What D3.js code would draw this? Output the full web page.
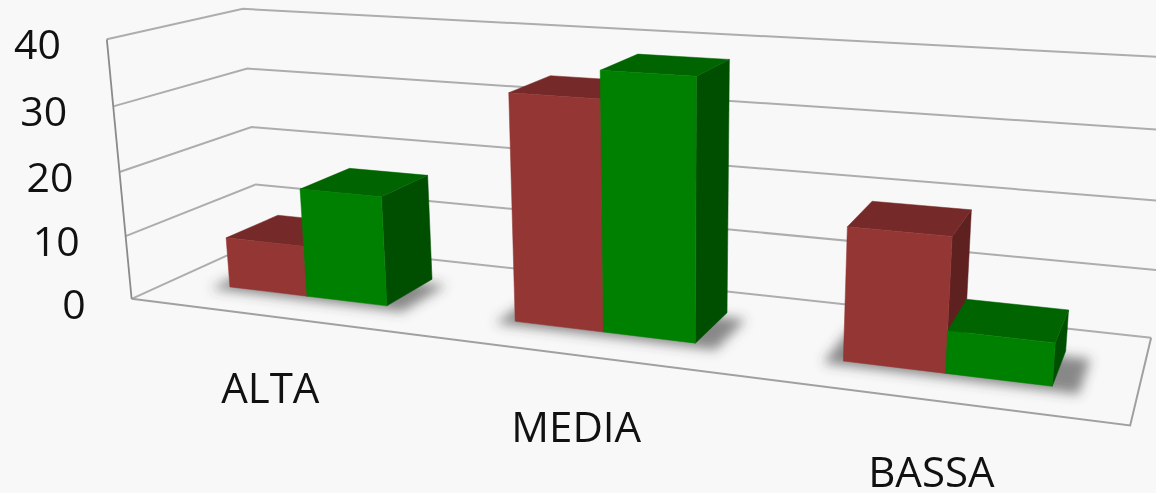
<!DOCTYPE html>
<html><head><meta charset="utf-8"><script src="https://cdn.jsdelivr.net/npm/d3@7"></script>
<style>html,body{margin:0;background:#f8f8f8;overflow:hidden}svg{display:block}text{font-family:"Open Sans",sans-serif;fill:#111}</style></head>
<body><svg id="c" width="1156" height="493"></svg>
<script>
// Chart values
const categories = ["ALTA", "MEDIA", "BASSA"];
const seriesNames = ["Serie 1", "Serie 2"];
const serie1 = [8, 34, 19];
const serie2 = [17, 38, 6];
const yTicks = [0, 10, 20, 30, 40];
const seriesFaces = [
  {front: "#943634", top: "#752a29", side: "#5f2120"},
  {front: "#008000", top: "#006400", side: "#004f00"}
];

// Camera: world box (x, value, depth each 0..1) mapped through a fitted projective matrix
const anchors = [
  [[0,0,0],[130,299]], [[1,0,0],[1130,426]], [[0,0,1],[260,241]], [[1,0,1],[1151,337]],
  [[0,1,0],[107,39]], [[0,1,1],[242,9]], [[1,1,1],[1175,58]],
  [[0,.75,0],[115,106]], [[0,.5,0],[120,172]], [[0,.25,0],[125,236]],
  [[0,.75,1],[245,69]], [[0,.5,1],[253,127]], [[0,.25,1],[257,184]]
];
function fitCamera(pairs) {
  const rows = [], rhs = [];
  pairs.forEach(([[X,Y,Z],[x,y]]) => {
    rows.push([X,Y,Z,1,0,0,0,0,-x*X,-x*Y,-x*Z]); rhs.push(x);
    rows.push([0,0,0,0,X,Y,Z,1,-y*X,-y*Y,-y*Z]); rhs.push(y);
  });
  const n = 11;
  const N = d3.range(n).map(i => d3.range(n + 1).map(j =>
    j < n ? d3.sum(rows, r => r[i] * r[j]) : d3.sum(rows, (r, k) => r[i] * rhs[k])));
  for (let i = 0; i < n; i++) {
    let m = i;
    for (let k = i; k < n; k++) if (Math.abs(N[k][i]) > Math.abs(N[m][i])) m = k;
    [N[i], N[m]] = [N[m], N[i]];
    for (let k = 0; k < n; k++) if (k !== i) {
      const f = N[k][i] / N[i][i];
      for (let j = i; j <= n; j++) N[k][j] -= f * N[i][j];
    }
  }
  return N.map((r, i) => r[n] / r[i]);
}
const cam = fitCamera(anchors);
const project = (X, Y, Z) => {
  const w = cam[8]*X + cam[9]*Y + cam[10]*Z + 1;
  return [(cam[0]*X + cam[1]*Y + cam[2]*Z + cam[3]) / w, (cam[4]*X + cam[5]*Y + cam[6]*Z + cam[7]) / w];
};

// Scales
const xBand = d3.scaleBand().domain(categories).range([0, 1]).paddingInner(0.433).paddingOuter(0.2165);
const xInner = d3.scaleBand().domain(seriesNames).range([0, xBand.bandwidth()]);
const yScale = d3.scaleLinear().domain([0, 40]).range([0, 1]);
const zBar = [0.298, 0.715];

const svg = d3.select("#c");
const path = d3.line().curve(d3.curveLinearClosed);
const open = d3.line();

svg.append("defs").append("filter").attr("id", "soft")
  .attr("x", "-30%").attr("y", "-60%").attr("width", "160%").attr("height", "220%")
  .append("feGaussianBlur").attr("stdDeviation", 6);

// Walls: gridlines on the left and back walls, then the floor outline
const grid = svg.append("g").attr("fill", "none");
grid.selectAll("path.wall").data(yTicks).join("path").attr("class", "wall")
  .attr("d", t => {
    const v = yScale(t);
    return open([project(0, v, 0), project(0, v, 1), project(1, v, 1)]);
  })
  .attr("stroke", "#adadad").attr("stroke-width", 2);
grid.append("path")
  .attr("d", open([project(0, 0, 0), project(1, 0, 0), project(1, 0, 1)]))
  .attr("stroke", "#a0a0a0").attr("stroke-width", 2);
grid.append("path")
  .attr("d", open([project(0, 0, 0), project(0, 1, 0)]))
  .attr("stroke", "#8a8a8a").attr("stroke-width", 1.8);

// Bars
const bars = categories.flatMap((c, i) => [serie1[i], serie2[i]].map((v, s) => ({c, v, s})));
const shadows = svg.append("g").attr("filter", "url(#soft)");
shadows.selectAll("path").data(categories).join("path")
  .attr("d", c => {
    const x0 = xBand(c) - 0.016, x1 = xBand(c) + xBand.bandwidth() + 0.024;
    const z0 = zBar[0] - 0.05, z1 = zBar[1] - 0.06;
    return path([project(x0, 0, z0), project(x1, 0, z0), project(x1, 0, z1), project(x0, 0, z1)]);
  })
  .attr("fill", "#444").attr("opacity", 0.62);

const barG = svg.append("g").selectAll("g").data(bars).join("g");
barG.each(function (d) {
  const g = d3.select(this), f = seriesFaces[d.s];
  const x0 = xBand(d.c) + xInner(seriesNames[d.s]), x1 = x0 + xInner.bandwidth();
  const y1 = yScale(d.v), [z0, z1] = zBar;
  const face = (pts, col) => g.append("path").attr("d", path(pts)).attr("fill", col).attr("stroke", col).attr("stroke-width", 0.5);
  face([project(x1,0,z0), project(x1,0,z1), project(x1,y1,z1), project(x1,y1,z0)], f.side);
  face([project(x0,y1,z0), project(x1,y1,z0), project(x1,y1,z1), project(x0,y1,z1)], f.top);
  face([project(x0,0,z0), project(x1,0,z0), project(x1,y1,z0), project(x0,y1,z0)], f.front);
});

// Value labels sit to the left of the front wall edge
svg.append("g").selectAll("text").data(yTicks).join("text")
  .attr("text-anchor", "end").attr("font-size", 41)
  .attr("x", t => project(0, yScale(t), 0)[0] - 46)
  .attr("y", t => project(0, yScale(t), 0)[1] + 20)
  .text(t => t);

// Category labels follow the floor's front edge
svg.append("g").selectAll("text").data(categories).join("text")
  .attr("text-anchor", "middle").attr("font-size", 42)
  .attr("x", c => project(xBand(c) + xBand.bandwidth() / 2, 0, 0)[0] + 1)
  .attr("y", c => project(xBand(c) + xBand.bandwidth() / 2, 0, 0)[1] + 87)
  .text(c => c);
</script></body></html>
